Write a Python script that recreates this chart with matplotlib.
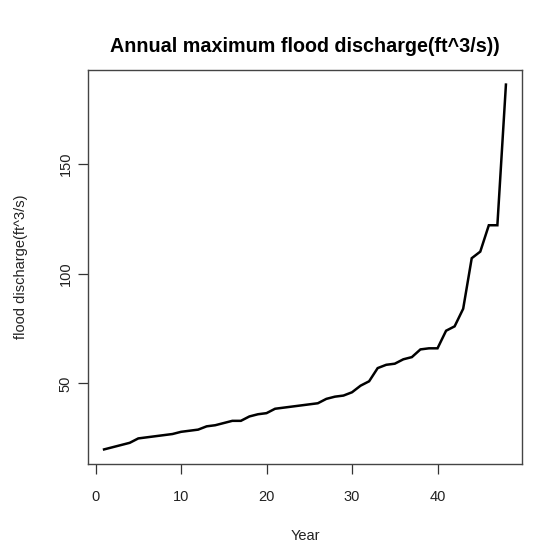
import matplotlib
matplotlib.use("Agg")
import matplotlib.pyplot as plt

years = list(range(1, 49))
discharge = [20, 21, 22, 23, 25, 25.5, 26, 26.5, 27, 28,
             28.5, 29, 30.5, 31, 32, 33, 33, 35, 36, 36.5,
             38.5, 39, 39.5, 40, 40.5, 41, 43, 44, 44.5, 46,
             49, 51, 57, 58.5, 59, 61, 62, 65.5, 66, 66,
             74, 76, 84, 107, 110, 122, 122, 186]
xticks = [0, 10, 20, 30, 40]
yticks = [50, 100, 150]

plt.rcParams['font.family'] = ['Liberation Sans', 'DejaVu Sans']
W, H = 542, 543
fig = plt.figure(figsize=(W / 100, H / 100), dpi=100)
ax = fig.add_axes([88 / W, 1 - 464 / H, (522 - 88) / W, (464 - 70) / H])

ax.plot(years, discharge, color='black', lw=1.8, solid_joinstyle='miter')

xr = max(years) - min(years)
ax.set_xlim(min(years) - 0.04 * xr, max(years) + 0.04 * xr)
yr = max(discharge) - min(discharge)
ax.set_ylim(min(discharge) - 0.04 * yr, max(discharge) + 0.04 * yr)

ax.set_xticks(xticks)
ax.set_yticks(yticks)
ax.set_yticklabels([str(v) for v in yticks], rotation=90, va='center')
ax.tick_params(direction='out', length=7, width=0.9, colors='#333333',
               labelsize=10.5, labelcolor='#222222')
ax.tick_params(axis='x', pad=12)
ax.tick_params(axis='y', pad=4)
for s in ax.spines.values():
    s.set_color('#444444')
    s.set_linewidth(1.0)

ax.set_xlabel('Year', fontsize=10.5, color='#222222', labelpad=18)
ax.set_ylabel('flood discharge(ft^3/s)', fontsize=10.5, color='#222222', labelpad=22)
fig.text(0.5 * (88 + 522) / W, 1 - 47 / H, 'Annual maximum flood discharge(ft^3/s))',
         ha='center', va='center', fontsize=14.2, fontweight='bold')

fig.savefig('out.png', dpi=100)
